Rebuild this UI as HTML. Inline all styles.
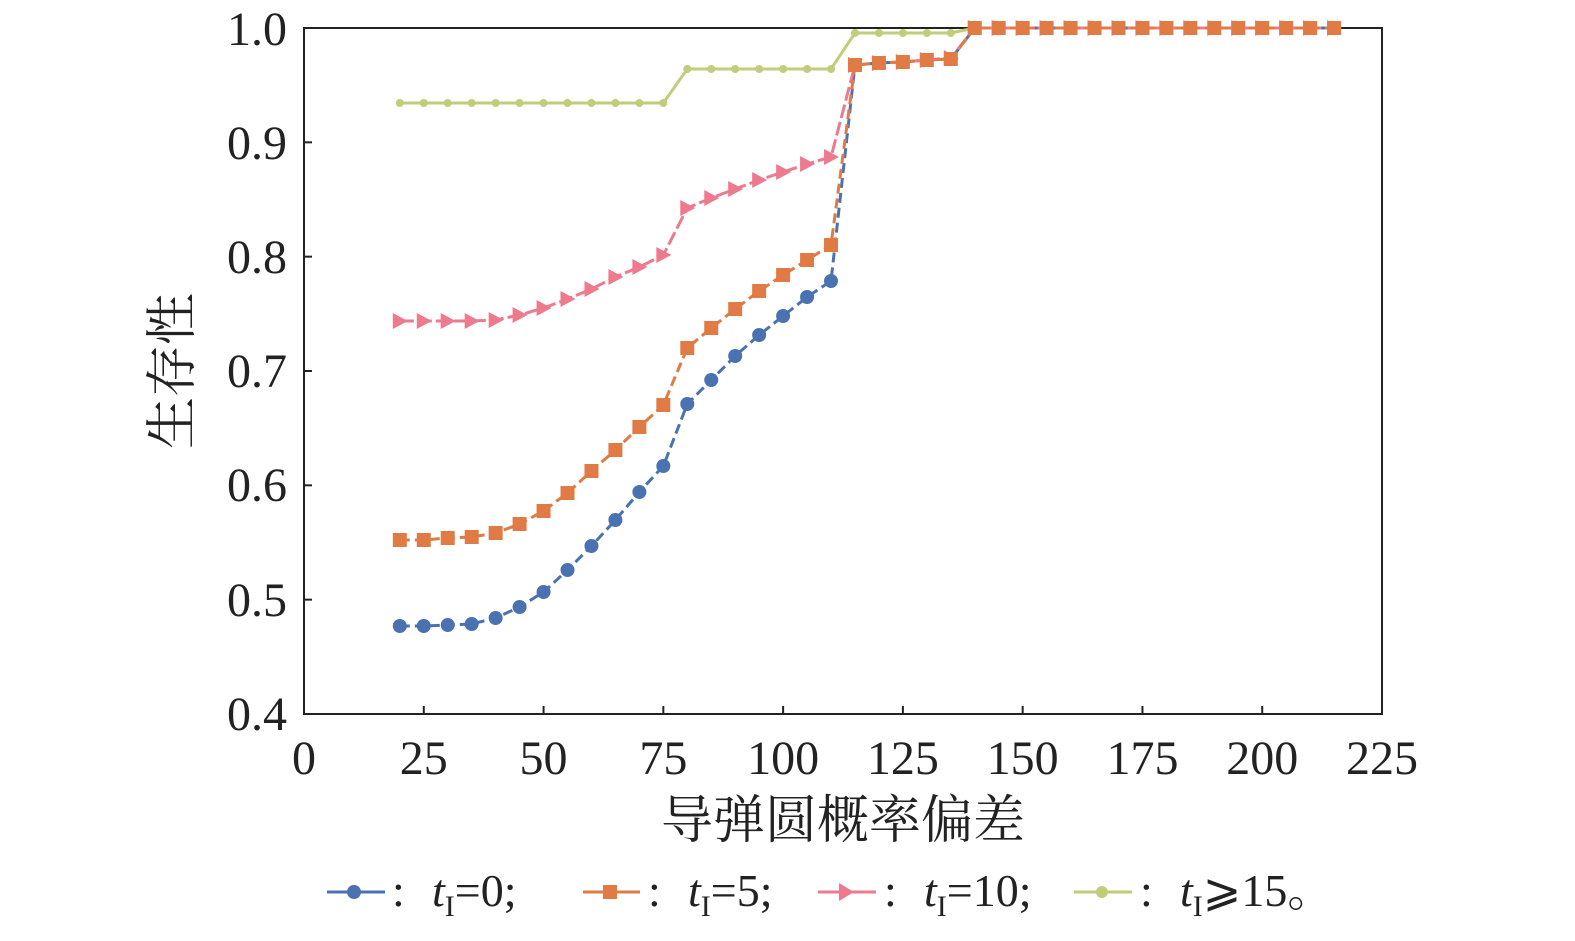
<!DOCTYPE html>
<html><head><meta charset="utf-8"><style>
html,body{margin:0;padding:0;background:#fff;}
svg text{font-family:"Liberation Serif","Noto Serif CJK SC",serif;fill:#222;}
</style></head><body>
<svg id="s" width="1575" height="936" xmlns="http://www.w3.org/2000/svg">
<rect x="304" y="28" width="1078" height="686" fill="none" stroke="#222" stroke-width="2"/>
<g font-size="48" text-anchor="end">
<text x="287" y="45">1.0</text><text x="287" y="159">0.9</text><text x="287" y="273">0.8</text>
<text x="287" y="387">0.7</text><text x="287" y="501">0.6</text><text x="287" y="616">0.5</text><text x="287" y="730">0.4</text>
</g>
<g font-size="48" text-anchor="middle" id="xl"></g>
<text font-size="52" text-anchor="middle" transform="translate(190,371) rotate(-90)" font-family="Noto Serif CJK SC,serif">生存性</text>
<text x="843" y="838" font-size="52" text-anchor="middle" font-family="Noto Serif CJK SC,serif">导弹圆概率偏差</text>
<g id="d"></g>
<g font-size="46">
<line x1="327" y1="892" x2="385" y2="892" stroke="#4a72b0" stroke-width="3" stroke-dasharray="26,6,26"/><circle cx="354" cy="892" r="7" fill="#4a72b0"/>
<text x="392" y="906">:</text><text x="432" y="906"><tspan font-style="italic">t</tspan><tspan font-size="30" dy="10">I</tspan><tspan dy="-10">=0;</tspan></text>
<line x1="583" y1="892" x2="640" y2="892" stroke="#e07b45" stroke-width="3" stroke-dasharray="26,6,26"/><rect x="603" y="885" width="14" height="14" fill="#e07b45"/>
<text x="648" y="906">:</text><text x="688" y="906"><tspan font-style="italic">t</tspan><tspan font-size="30" dy="10">I</tspan><tspan dy="-10">=5;</tspan></text>
<line x1="818" y1="892" x2="876" y2="892" stroke="#ee7a8e" stroke-width="3"/><polygon points="839,883 854,892 839,901" fill="#ee7a8e"/>
<text x="884" y="906">:</text><text x="924" y="906"><tspan font-style="italic">t</tspan><tspan font-size="30" dy="10">I</tspan><tspan dy="-10">=10;</tspan></text>
<line x1="1074" y1="892" x2="1132" y2="892" stroke="#c2cc7a" stroke-width="3"/><circle cx="1102" cy="892" r="6" fill="#c2cc7a"/>
<text x="1140" y="906">:</text><text x="1180" y="906"><tspan font-style="italic">t</tspan><tspan font-size="30" dy="10">I</tspan><tspan dy="-10">⩾15。</tspan></text>
</g>
</svg>
<script>
var NS="http://www.w3.org/2000/svg",s=document.getElementById('s'),d=document.getElementById('d'),xl=document.getElementById('xl');
function el(t,a,p){var e=document.createElementNS(NS,t);for(var k in a)e.setAttribute(k,a[k]);(p||d).appendChild(e);return e;}
for(var v=0;v<=225;v+=25){var x=304+v*1078/225;var t=el('text',{x:x,y:774},xl);t.textContent=v;if(v>0&&v<225)el('line',{x1:x,y1:714,x2:x,y2:706,stroke:'#222','stroke-width':2});}
for(var i=1;i<6;i++){var y=28+i*114.33;el('line',{x1:304,y1:y,x2:312,y2:y,stroke:'#222','stroke-width':2});}
function X(i){return 304+(20+5*i)*1078/225;}
var tail=[65,63,62,60,59];for(var i=0;i<16;i++)tail.push(28);
var G=[],i;for(i=0;i<12;i++)G.push(103);for(i=0;i<7;i++)G.push(69);for(i=0;i<5;i++)G.push(33);for(i=0;i<16;i++)G.push(28);
var B=[626,626,625,624,618,607,592,570,546,520,492,466,404,380,356,335,316,297,281].concat(tail);
var O=[540,540,538,537,533,524,511,493,471,450,427,405,348,328,309,291,275,260,245].concat(tail);
var P=[321,321,321,321,320,315,308,299,289,277,267,255,208,198,189,180,172,164,157].concat([65,63,62,60,58]);for(i=0;i<16;i++)P.push(28);
function line(Y,c,dash){var pts=Y.map(function(y,i){return X(i)+','+y}).join(' ');el('polyline',{points:pts,fill:'none',stroke:c,'stroke-width':3,'stroke-dasharray':dash||'none'});}
line(G,'#c2cc7a');
G.forEach(function(y,i){el('circle',{cx:X(i),cy:y,r:4,fill:'#c2cc7a'});});
line(B,'#4a72b0','10,5');
B.forEach(function(y,i){el('circle',{cx:X(i),cy:y,r:7,fill:'#4a72b0'});});
line(P,'#ee7a8e','14,4');
P.forEach(function(y,i){var x=X(i);el('polygon',{points:(x-7)+','+(y-8)+' '+(x+8)+','+y+' '+(x-7)+','+(y+8),fill:'#ee7a8e'});});
line(O,'#e07b45','10,5');
O.forEach(function(y,i){el('rect',{x:X(i)-7,y:y-7,width:14,height:14,fill:'#e07b45'});});
</script>
</body></html>
